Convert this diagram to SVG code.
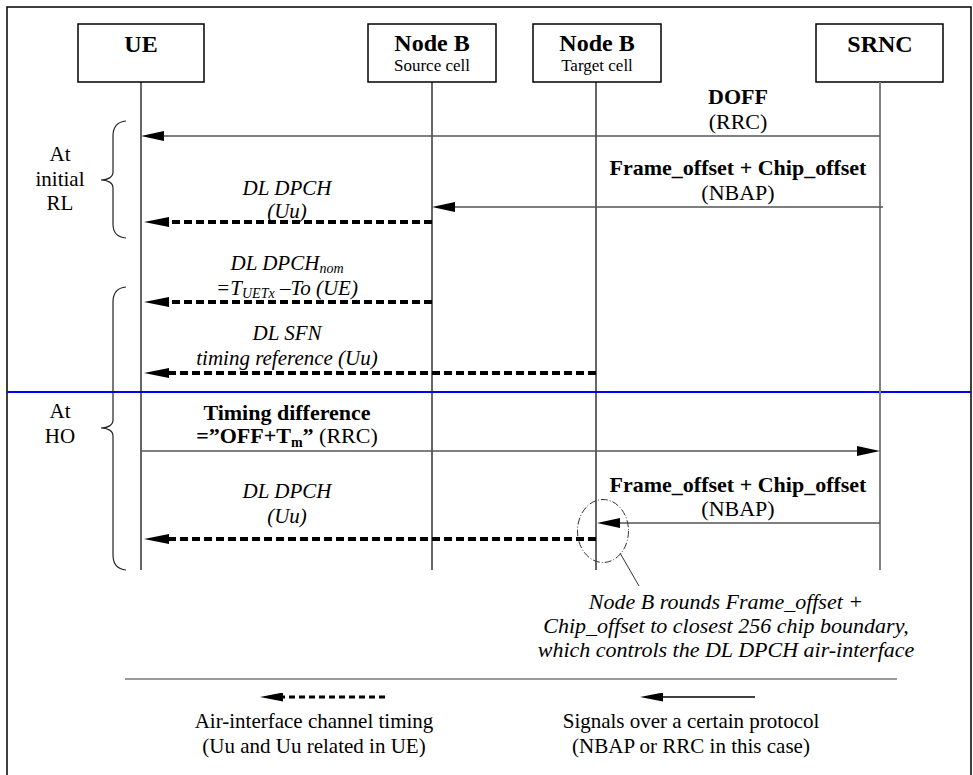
<svg xmlns="http://www.w3.org/2000/svg" width="973" height="775" viewBox="0 0 973 775" font-family="'Liberation Serif', 'Times New Roman', 'DejaVu Serif', serif">
<defs>
<style>
.t{font-size:21px;text-anchor:middle;}
.m{font-size:22px;}
.b{font-weight:bold;}
.i{font-style:italic;}
.title{font-size:24px;font-weight:bold;text-anchor:middle;}
.sub{font-size:17px;text-anchor:middle;}
.box{fill:#fff;stroke:#000;stroke-width:1.5;}
.life{stroke:#000;stroke-width:1.2;fill:none;}
.msg{stroke:#555;stroke-width:1.3;fill:none;}
.air{stroke:#000;stroke-width:4;stroke-dasharray:8 4;fill:none;}
.brace{stroke:#222;stroke-width:1.2;fill:none;}
</style>
<marker id="ah" viewBox="0 0 25 10" refX="0" refY="5" markerWidth="25" markerHeight="10" markerUnits="userSpaceOnUse" orient="auto">
<path d="M0,0 L25,5 L0,10 z" fill="#000"/>
</marker>
<marker id="ahs" viewBox="0 0 23 10" refX="0" refY="5" markerWidth="23" markerHeight="10" markerUnits="userSpaceOnUse" orient="auto">
<path d="M0,0 L23,5 L0,10 z" fill="#000"/>
</marker>
<marker id="ahl" viewBox="0 0 23 9" refX="0" refY="4.5" markerWidth="23" markerHeight="9" markerUnits="userSpaceOnUse" orient="auto">
<path d="M0,0 L23,4.5 L0,9 z" fill="#000"/>
</marker>
</defs>
<rect width="973" height="775" fill="#fff"/>
<path d="M7,780 V7 H971 V780" fill="none" stroke="#000" stroke-width="1.5"/>
<line x1="7" y1="392" x2="971" y2="392" stroke="#0000ff" stroke-width="2"/>

<g id="ue">
<rect class="box" x="78" y="24" width="126" height="58"/>
<text class="title" x="141" y="52">UE</text>
<line class="life" x1="141" y1="82" x2="141" y2="570"/>
</g>
<g id="nodeb-source">
<rect class="box" x="368" y="24" width="128" height="58"/>
<text class="title" x="432" y="51">Node B</text>
<text class="sub" x="432" y="71">Source cell</text>
<line class="life" x1="432" y1="82" x2="432" y2="570"/>
</g>
<g id="nodeb-target">
<rect class="box" x="533" y="24" width="128" height="58"/>
<text class="title" x="597" y="51">Node B</text>
<text class="sub" x="597" y="71">Target cell</text>
<line class="life" x1="596" y1="82" x2="596" y2="570"/>
</g>
<g id="srnc">
<rect class="box" x="816" y="24" width="127" height="58"/>
<text class="title" x="880" y="52">SRNC</text>
<line x1="880" y1="82" x2="880" y2="570" stroke="#808080" stroke-width="2"/>
</g>

<g id="braces">
<path class="brace" d="M126,121 C116,122 113,128 113,136 L113,172 C113,177 108,180 101,180 C108,180 113,183 113,188 L113,224 C113,232 116,237 126,238"/>
<text class="t" x="60" y="161">At</text>
<text class="t" x="60" y="186">initial</text>
<text class="t" x="60" y="210">RL</text>
<path class="brace" d="M126,287 C116,288 113,294 113,302 L113,420 C113,425 108,428 101,428 C108,428 113,431 113,436 L113,555 C113,563 116,569 126,570"/>
<text class="t" x="60" y="418">At</text>
<text class="t" x="60" y="443">HO</text>
</g>

<g id="connectors">
<line class="msg" x1="880" y1="136" x2="164" y2="136" marker-end="url(#ahs)"/>
<line class="msg" x1="883" y1="207" x2="455" y2="207" marker-end="url(#ahs)"/>
<line class="air" x1="432" y1="222" x2="169" y2="222" marker-end="url(#ah)"/>
<line class="air" x1="432" y1="302" x2="169" y2="302" marker-end="url(#ah)"/>
<line class="air" x1="596" y1="373" x2="169" y2="373" marker-end="url(#ah)"/>
<line class="msg" x1="141" y1="451" x2="857" y2="451" marker-end="url(#ahs)"/>
<line class="msg" x1="880" y1="523" x2="620" y2="523" marker-end="url(#ahs)"/>
<line class="air" x1="596" y1="539" x2="169" y2="539" marker-end="url(#ah)"/>
<ellipse cx="603" cy="531" rx="25.5" ry="31.5" fill="none" stroke="#333" stroke-width="1" stroke-dasharray="7 2 1 2"/>
<line x1="620" y1="553" x2="639" y2="586" stroke="#333" stroke-width="1"/>
</g>

<g id="labels">
<text class="t m b" x="738" y="104">DOFF</text>
<text class="t m" x="738" y="129">(RRC)</text>
<text class="t m b" x="738" y="175">Frame_offset + Chip_offset</text>
<text class="t m" x="738" y="200">(NBAP)</text>
<text class="t i" x="287" y="195">DL DPCH</text>
<text class="t i" x="287" y="218">(Uu)</text>
<text class="t i" x="287" y="270">DL DPCH<tspan font-size="14" dy="3">nom</tspan></text>
<text class="t i" x="287" y="295">=T<tspan font-size="14" dy="3">UETx</tspan><tspan dy="-3"> –To (UE)</tspan></text>
<text class="t i" x="287" y="340">DL SFN</text>
<text class="t i" x="287" y="365">timing reference (Uu)</text>
<text class="t m b" x="287" y="420">Timing difference</text>
<text class="t m" x="287" y="443"><tspan font-weight="bold">=”OFF+T</tspan><tspan font-weight="bold" font-size="14" dy="4">m</tspan><tspan font-weight="bold" dy="-4">”</tspan> (RRC)</text>
<text class="t i" x="287" y="498">DL DPCH</text>
<text class="t i" x="287" y="523">(Uu)</text>
<text class="t m b" x="738" y="492">Frame_offset + Chip_offset</text>
<text class="t m" x="738" y="516">(NBAP)</text>
<text class="t m i" x="726" y="609">Node B rounds Frame_offset +</text>
<text class="t m i" x="726" y="633">Chip_offset to closest 256 chip boundary,</text>
<text class="t m i" x="726" y="657">which controls the DL DPCH air-interface</text>
</g>

<g id="legend">
<line x1="125" y1="679" x2="897" y2="679" stroke="#777" stroke-width="1.5"/>
<line x1="385" y1="697" x2="283" y2="697" stroke="#000" stroke-width="3" stroke-dasharray="6 4" marker-end="url(#ahl)"/>
<text class="t" x="314" y="728">Air-interface channel timing</text>
<text class="t" x="314" y="753">(Uu and Uu related in UE)</text>
<line x1="755" y1="697" x2="663" y2="697" stroke="#000" stroke-width="1.3" marker-end="url(#ahl)"/>
<text class="t" x="691" y="728">Signals over a certain protocol</text>
<text class="t" x="691" y="753">(NBAP or RRC in this case)</text>
</g>
</svg>
